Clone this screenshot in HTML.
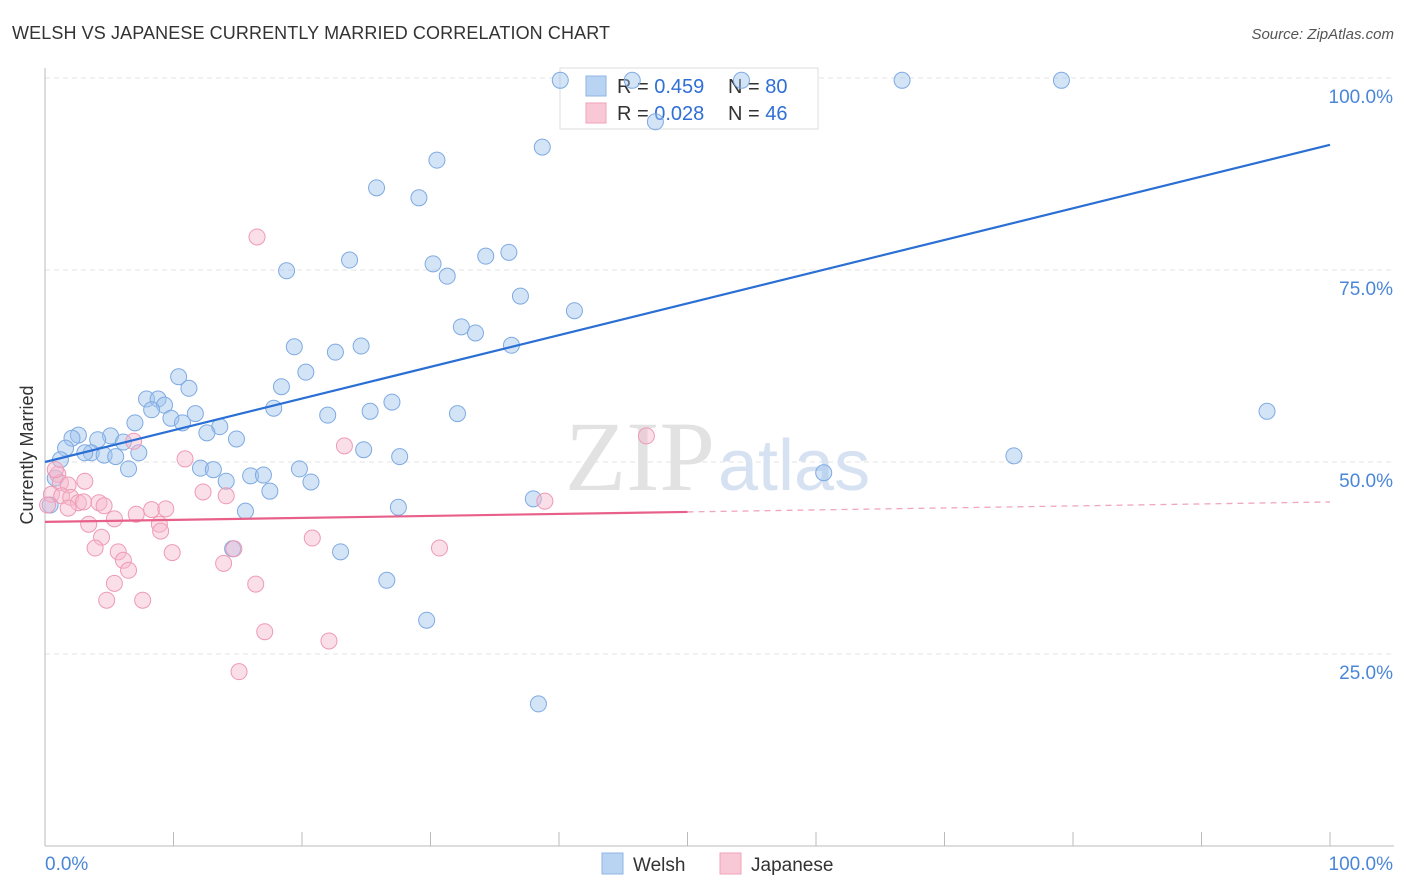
<!DOCTYPE html>
<html><head><meta charset="utf-8"><style>
body{margin:0;background:#fff;font-family:"Liberation Sans",sans-serif;}
svg{display:block}
</style></head><body>
<svg id="chart" width="1406" height="892">
<text x="12" y="39" font-size="18" fill="#333" textLength="598">WELSH VS JAPANESE CURRENTLY MARRIED CORRELATION CHART</text>
<text x="1394" y="39" font-size="15" fill="#555" font-style="italic" text-anchor="end">Source: ZipAtlas.com</text>
<text x="33" y="455" font-size="18" fill="#333" text-anchor="middle" transform="rotate(-90 33 455)">Currently Married</text>
<g id="grid"></g>
<text x="715" y="490" font-size="100" fill="#e2e2e2" font-family="Liberation Serif" text-anchor="end">ZIP</text>
<text x="718" y="490" font-size="72" fill="#d6e2f2">atlas</text>
<g>
<rect x="560" y="68" width="258" height="61" fill="#fff" stroke="#ddd"/>
<rect x="586" y="76" width="20" height="20" fill="#b9d3f3" stroke="#8fb5e6"/>
<rect x="586" y="103" width="20" height="20" fill="#f9c8d6" stroke="#efa3ba"/>
<text x="617" y="93" font-size="20" fill="#333">R = <tspan fill="#2f6fd6">0.459</tspan></text>
<text x="728" y="93" font-size="20" fill="#333">N = <tspan fill="#2f6fd6">80</tspan></text>
<text x="617" y="120" font-size="20" fill="#333">R = <tspan fill="#2f6fd6">0.028</tspan></text>
<text x="728" y="120" font-size="20" fill="#333">N = <tspan fill="#2f6fd6">46</tspan></text>
</g>
<g id="pts"></g>
<g id="lines"></g>
<g>
<rect x="602" y="853" width="21" height="21" fill="#b9d3f3" stroke="#8fb5e6"/>
<text x="633" y="871" font-size="19" fill="#333">Welsh</text>
<rect x="720" y="853" width="21" height="21" fill="#f9c8d6" stroke="#efa3ba"/>
<text x="751" y="871" font-size="19" fill="#333">Japanese</text>
</g>
</svg>
<script>
const welshX=[40.1,45.7,54.2,66.7,79.1,47.5,38.7,30.5,25.8,29.1,23.7,30.2,18.8,31.3,34.3,36.1,37.0,41.2,32.4,33.5,36.3,19.4,24.6,22.6,20.3,10.4,18.4,11.2,7.9,8.8,27.0,9.3,8.3,17.8,25.3,22.0,32.1,11.7,9.8,10.7,7.0,13.6,12.6,2.6,2.1,5.1,4.1,6.1,14.9,1.6,24.8,3.6,3.1,4.6,5.5,7.3,27.6,1.2,75.4,12.1,13.1,19.8,6.5,60.6,16.0,17.0,14.1,20.7,17.5,95.1,38.0,27.5,15.6,0.8,0.4,14.6,23.0,26.6,29.7,38.4];
const welshY=[99.7,99.7,99.7,99.7,99.7,94.3,91.0,89.3,85.7,84.4,76.3,75.8,74.9,74.2,76.8,77.3,71.6,69.7,67.6,66.8,65.2,65.0,65.1,64.3,61.7,61.1,59.8,59.6,58.2,58.2,57.8,57.4,56.8,57.0,56.6,56.1,56.3,56.3,55.7,55.1,55.1,54.6,53.8,53.5,53.1,53.4,52.9,52.6,53.0,51.8,51.6,51.2,51.2,50.9,50.7,51.2,50.7,50.3,50.8,49.2,49.0,49.1,49.1,48.6,48.2,48.3,47.5,47.4,46.2,56.6,45.2,44.1,43.6,47.9,44.4,38.7,38.3,34.6,29.4,18.5];
const japX=[16.5,6.9,23.3,46.8,10.9,1.0,3.1,1.2,1.8,0.5,1.3,2.0,2.6,3.0,4.2,4.6,1.8,12.3,14.1,38.9,8.3,9.4,7.1,5.4,3.4,8.9,9.0,4.4,20.8,3.9,14.7,30.7,5.7,9.9,6.1,13.9,6.5,5.4,16.4,4.8,7.6,17.1,22.1,15.1,0.2,0.8];
const japY=[79.3,52.7,52.1,53.4,50.4,48.4,47.5,47.3,47.0,45.8,45.6,45.4,44.7,44.8,44.7,44.3,44.0,46.1,45.6,44.9,43.8,43.9,43.2,42.6,41.9,41.9,41.0,40.2,40.1,38.8,38.7,38.8,38.3,38.2,37.2,36.8,35.9,34.2,34.1,32.0,32.0,27.9,26.7,22.7,44.4,49.0];
const yTicks=[25,50,75,100];
const yTickLabels=["25.0%","50.0%","75.0%","100.0%"];
const xTicks=[0,10,20,30,40,50,60,70,80,90,100];
const welshTrend=[50.0,91.3];
const japTrend=[42.2,44.8];
const NS="http://www.w3.org/2000/svg";
const sx=v=>45+v*12.85, sy=v=>846-v*7.68;
function mk(p,t,a){const e=document.createElementNS(NS,t);for(const k in a)e.setAttribute(k,a[k]);p.appendChild(e);return e;}
const grid=document.getElementById('grid');
yTicks.forEach((t,i)=>{
 const l=mk(grid,'line',{x1:45,x2:1394,y1:sy(t),y2:sy(t),stroke:'#e3e3e3','stroke-dasharray':'5,4'});
 
 
 const tx=mk(grid,'text',{x:1393,y:sy(t)+25,'font-size':19,fill:'#4a86d8','text-anchor':'end'});
 tx.textContent=yTickLabels[i];
 
 
});
const ax=mk(grid,'line',{x1:45,x2:45,y1:68,y2:846,stroke:'#bbb'});


const bx=mk(grid,'line',{x1:45,x2:1394,y1:846,y2:846,stroke:'#bbb'});


xTicks.forEach(t=>{const l=mk(grid,'line',{x1:sx(t),x2:sx(t),y1:832,y2:846,stroke:'#bbb'});
 
 });
const x0=mk(grid,'text',{x:45,y:870,'font-size':19,fill:'#4a86d8'});x0.textContent='0.0%';


const x1=mk(grid,'text',{x:1393,y:870,'font-size':19,fill:'#4a86d8','text-anchor':'end'});x1.textContent='100.0%';


const pts=document.getElementById('pts');
welshX.forEach((v,i)=>{const c=mk(pts,'circle',{cx:sx(v),cy:sy(welshY[i]),r:8,fill:'rgba(160,195,238,0.45)',stroke:'#7eaae2','stroke-width':1});
 
 });
japX.forEach((v,i)=>{const c=mk(pts,'circle',{cx:sx(v),cy:sy(japY[i]),r:8,fill:'rgba(247,185,205,0.45)',stroke:'#ee9ab5','stroke-width':1});
 
 });
const lines=document.getElementById('lines');
const wl=mk(lines,'line',{x1:sx(0),y1:sy(welshTrend[0]),x2:sx(100),y2:sy(welshTrend[1]),stroke:'#2a6fd4','stroke-width':2.2});


const jm=japTrend[0]+(japTrend[1]-japTrend[0])*0.5;
const jl=mk(lines,'line',{x1:sx(0),y1:sy(japTrend[0]),x2:sx(50),y2:sy(jm),stroke:'#e8608a','stroke-width':2.2});


const jd=mk(lines,'line',{x1:sx(50),y1:sy(jm),x2:sx(100),y2:sy(japTrend[1]),stroke:'#f0a6bd','stroke-width':1.3,'stroke-dasharray':'6,5'});


</script>
</body></html>
